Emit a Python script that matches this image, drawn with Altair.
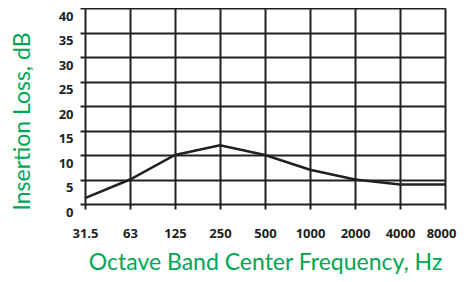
import altair as alt
import pandas as pd

freqs = ["31.5", "63", "125", "250", "500", "1000", "2000", "4000", "8000"]
loss = [1.2, 5, 10, 12, 10, 7, 5, 4, 4]
y_ticks = [0, 5, 10, 15, 20, 25, 30, 35, 40]

df = pd.DataFrame({"freq": freqs, "loss": loss})

DARK = "#231f20"
GREEN = "#00a651"

chart = alt.Chart(df).mark_line(color=DARK, strokeWidth=2.5).encode(
    x=alt.X("freq:O", sort=freqs,
            scale=alt.Scale(type="point", padding=0),
            axis=alt.Axis(title="Octave Band Center Frequency, Hz",
                          labelAngle=0, labelFont="Open Sans", labelFontWeight="bold",
                          labelFontSize=13, labelColor=DARK, labelPadding=18,
                          labelOffset=alt.expr("datum.label == '8000' ? -4 : 0"),
                          tickSize=5, tickColor=DARK, tickWidth=2,
                          domain=False, grid=True, gridColor=DARK, gridWidth=2, gridOpacity=1,
                          titleFont="Lato", titleFontSize=23, titleFontWeight="normal",
                          titleColor=GREEN, titleX=180, titleY=58,
                          titleAlign="center", titleBaseline="middle")),
    y=alt.Y("loss:Q", scale=alt.Scale(domain=[0, 40], nice=False),
            axis=alt.Axis(title="Insertion Loss, dB", values=y_ticks,
                          labelFont="Open Sans", labelFontWeight="bold",
                          labelFontSize=13, labelColor=DARK, labelPadding=7,
                          labelOffset=8,
                          tickSize=5, tickColor=DARK, tickWidth=2,
                          domain=False, grid=True, gridColor=DARK, gridWidth=2, gridOpacity=1,
                          titleFont="Lato", titleFontSize=23, titleFontWeight="normal",
                          titleColor=GREEN, titleX=-63, titleY=113, titleAngle=-90,
                          titleAlign="center", titleBaseline="middle")),
).properties(
    width=360, height=196,
    autosize=alt.AutoSizeParams(type="none"),
    padding={"left": 77, "top": 0, "right": 13, "bottom": 70},
).configure_view(stroke=DARK, strokeWidth=2).configure(background="white")

chart.save("out.html", embed_options={"renderer": "svg", "actions": False})
